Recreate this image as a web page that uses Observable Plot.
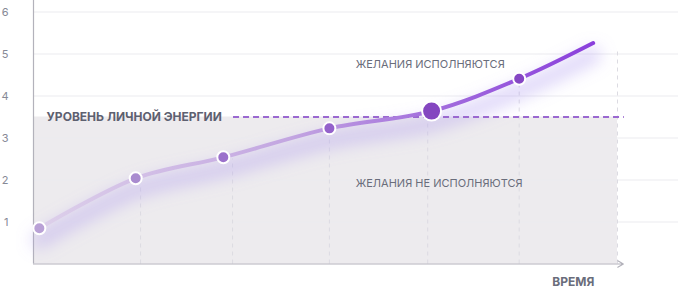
<!DOCTYPE html>
<html>
<head>
<meta charset="utf-8">
<script src="https://cdn.jsdelivr.net/npm/d3@7"></script>
<script src="https://cdn.jsdelivr.net/npm/@observablehq/plot@0.6"></script>
<style>
  html, body { margin: 0; padding: 0; background: #fff; }
  svg { display: block; }
</style>
</head>
<body>
<div id="chart"></div>
<script>
// Curve points (time units, energy level)
const times = [0.06, 1.05, 1.95, 3.04, 4.09, 4.99, 5.75];
const values = [0.85, 2.04, 2.54, 3.23, 3.64, 4.41, 5.26];
const pointColors = ["#b9a1d6", "#a98bcf", "#9b71cb", "#9462cb", "#8446c0", "#8546c4"];
const bigIndex = 4;
// Vertical guide lines
const guideX = [1.10, 2.045, 3.04, 4.05, 4.99, 6.0];
const guideTop = [1.95, 2.5, 3.2, 3.6, 4.4, 5.1];
// Energy threshold
const energyLevel = 3.5;
const yTicks = [1, 2, 3, 4, 5, 6];
const labels = {
  energy: "УРОВЕНЬ ЛИЧНОЙ ЭНЕРГИИ",
  yes: "ЖЕЛАНИЯ ИСПОЛНЯЮТСЯ",
  no: "ЖЕЛАНИЯ НЕ ИСПОЛНЯЮТСЯ",
  time: "ВРЕМЯ"
};

const curve = times.map((t, i) => ({t, v: values[i]}));
const pts = curve.slice(0, 6).map((d, i) => ({...d, c: pointColors[i], big: i === bigIndex}));
const guides = guideX.map((x, i) => ({x, top: guideTop[i]}));

const font = "Inter, 'Noto Sans', sans-serif";

const chart = Plot.plot({
  width: 678,
  height: 293,
  marginLeft: 33,
  marginRight: 61,
  marginTop: 11.5,
  marginBottom: 29.5,
  style: {fontFamily: font, background: "#fff", overflow: "visible"},
  x: {domain: [0, 6], axis: null},
  y: {domain: [0, 6], axis: null},
  marks: [
    // gray "not fulfilled" band
    Plot.rect([{x1: 0, x2: 6, y1: 0, y2: energyLevel}], {x1: "x1", x2: "x2", y1: "y1", y2: "y2", fill: "#edebee"}),
    // horizontal gridlines
    Plot.ruleY(yTicks, {x1: 0, x2: 6.63, stroke: "#ebebef", strokeWidth: 1, clip: false}),
    // vertical dashed guides
    Plot.ruleX(guides, {x: "x", y1: 0, y2: "top", stroke: "#dcdbe2", strokeDasharray: "4,4", strokeWidth: 1}),
    // y tick labels
    Plot.text(yTicks, {x: 0, y: d => d, text: d => String(d), dx: -25, textAnchor: "end", fill: "#868996", fontSize: 11}),
    // axes
    Plot.ruleX([0], {y1: 0, y2: 6.28, stroke: "#b3b2bb", strokeWidth: 1.2, clip: false}),
    Plot.arrow([{x1: 0, x2: 6.06, y: 0}], {x1: "x1", x2: "x2", y1: "y", y2: "y", stroke: "#b3b2bb", strokeWidth: 1.2, headLength: 8, bend: 0}),
    // glow under the line
    Plot.line(curve, {x: "t", y: "v", curve: "catmull-rom", stroke: "#a894ee", strokeWidth: 16, strokeOpacity: 0.38, dy: 12}),
    // energy dashed level
    Plot.ruleY([energyLevel], {x1: 2.055, x2: 6.07, stroke: "#9a68d0", strokeWidth: 2, strokeDasharray: "6,4", clip: false}),
    // main line
    Plot.line(curve, {x: "t", y: "v", curve: "catmull-rom", stroke: "url(#lineGrad)", strokeWidth: 4, strokeLinecap: "round"}),
    // points
    Plot.dot(pts.filter(d => !d.big), {x: "t", y: "v", r: 6, fill: "c", stroke: "#fff", strokeWidth: 2}),
    Plot.dot(pts.filter(d => d.big), {x: "t", y: "v", r: 9.5, fill: "c", stroke: "#fff", strokeWidth: 2}),
    // labels
    Plot.text([labels.energy], {x: 0.134, y: 3.49, text: d => d, textAnchor: "start", fill: "#5d6070", fontSize: 12, fontWeight: 700}),
    Plot.text([labels.yes], {x: 3.31, y: 4.76, text: d => d, textAnchor: "start", fill: "#6a6d7b", fontSize: 11}),
    Plot.text([labels.no], {x: 3.31, y: 1.92, text: d => d, textAnchor: "start", fill: "#6a6d7b", fontSize: 11}),
    Plot.text([labels.time], {x: 5.33, y: -0.44, text: d => d, textAnchor: "start", fill: "#6a6d7b", fontSize: 12, fontWeight: 700, clip: false})
  ],
  color: {type: "identity"}
});

const svg = d3.select(chart);
const defs = svg.insert("defs", ":first-child");
const g = defs.append("linearGradient").attr("id", "lineGrad").attr("x1", 0).attr("x2", 1).attr("y1", 0).attr("y2", 0);
g.append("stop").attr("offset", "0%").attr("stop-color", "#ddd0ea");
g.append("stop").attr("offset", "45%").attr("stop-color", "#c3a6e1");
g.append("stop").attr("offset", "70%").attr("stop-color", "#a470dd");
g.append("stop").attr("offset", "100%").attr("stop-color", "#8a3fdc");
defs.append("filter").attr("id", "blur").attr("filterUnits", "userSpaceOnUse")
  .attr("x", 0).attr("y", 0).attr("width", 678).attr("height", 293)
  .append("feGaussianBlur").attr("stdDeviation", 8);
// first line mark is the glow
const glowGroup = svg.selectAll('g[aria-label="line"]').filter((d, i) => i === 0);
glowGroup.attr("filter", "url(#blur)");

document.getElementById("chart").appendChild(chart);
</script>
</body>
</html>
